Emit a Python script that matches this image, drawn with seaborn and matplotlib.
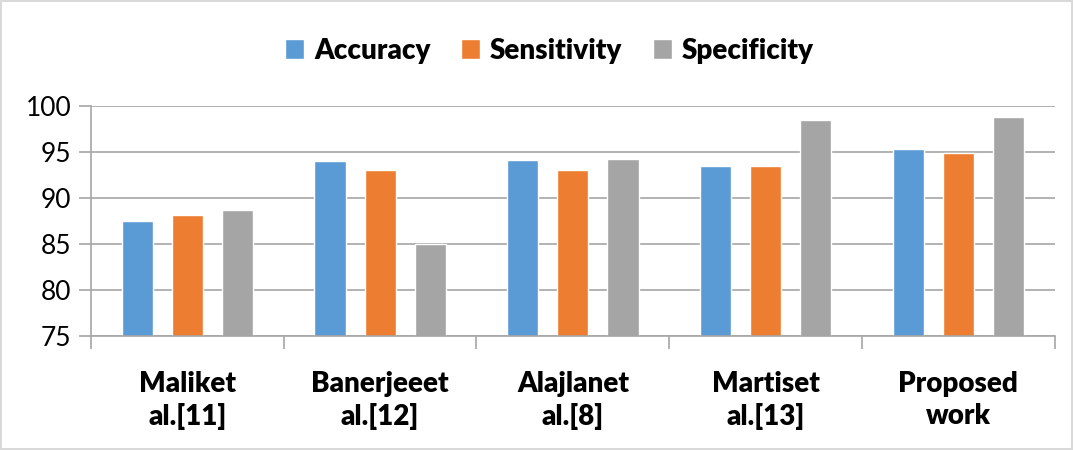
import matplotlib.pyplot as plt
import seaborn as sns
import pandas as pd
import numpy as np

# Values
methods = ['Maliket\nal.[11]', 'Banerjeeet\nal.[12]', 'Alajlanet\nal.[8]',
           'Martiset\nal.[13]', 'Proposed\nwork']
accuracy = [87.5, 94.0, 94.1, 93.5, 95.3]
sensitivity = [88.2, 93.0, 93.0, 93.5, 94.9]
specificity = [88.7, 85.0, 94.2, 98.5, 98.8]
metrics = ['Accuracy', 'Sensitivity', 'Specificity']
colors = ['#5B9BD5', '#ED7D31', '#A5A5A5']

df = pd.DataFrame({
    'Method': methods * 3,
    'Metric': [m for m in metrics for _ in methods],
    'Value': accuracy + sensitivity + specificity,
})

sns.set_theme(style="white")
plt.rcParams['font.family'] = ['Lato', 'DejaVu Sans']

fig = plt.figure(figsize=(10.73, 4.5), dpi=100)
fig.patch.set_edgecolor('#D9D9D9')
fig.patch.set_linewidth(1.5)
ax = fig.add_axes([0.0848, 0.2533, 0.8982, 0.5111])

sns.barplot(data=df, x='Method', y='Value', hue='Metric', palette=colors,
            saturation=1, width=0.78, gap=0.38, ax=ax, legend=True)

ax.set_ylim(75, 100)
ax.set_yticks(np.arange(75, 101, 5))
ax.set_xlim(-0.5, len(methods) - 0.5)
ax.set_xlabel('')
ax.set_ylabel('')
ax.set_axisbelow(True)
ax.yaxis.grid(True, color='#A6A6A6', linewidth=1.2)
ax.xaxis.grid(False)

for s in ['top', 'right']:
    ax.spines[s].set_visible(False)
for s in ['left', 'bottom']:
    ax.spines[s].set_color('#A6A6A6')
    ax.spines[s].set_linewidth(1.2)

ax.tick_params(axis='y', length=9, width=1.2, color='#A6A6A6', direction='out',
               left=True, labelsize=19, pad=5, labelcolor='black')
ax.tick_params(axis='x', which='major', length=0, pad=25)
ax.set_xticks(np.arange(-0.5, len(methods), 1.0), minor=True)
ax.tick_params(axis='x', which='minor', length=9, width=1.2, color='#A6A6A6',
               direction='out', bottom=True)
for lab in ax.get_xticklabels():
    lab.set_fontsize(20)
    lab.set_fontweight('heavy')
    lab.set_color('black')
    lab.set_linespacing(1.3)

handles, labels = ax.get_legend_handles_labels()
ax.legend_.remove()
leg = fig.legend(handles, labels, loc='center', bbox_to_anchor=(0.512, 0.887), ncol=3,
                 frameon=False, prop={'weight': 'heavy', 'size': 20},
                 handlelength=0.7, handleheight=0.7, handletextpad=0.35,
                 columnspacing=1.1)
for t in leg.get_texts():
    t.set_fontweight('heavy')
    t.set_color('black')

fig.savefig('out.png', dpi=100)
